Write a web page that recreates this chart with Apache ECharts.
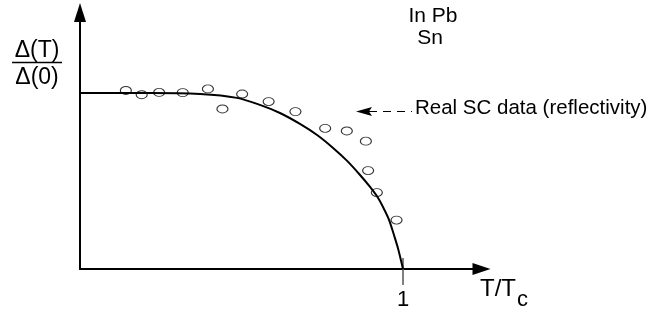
<!DOCTYPE html>
<html>
<head>
<meta charset="utf-8">
<script src="https://cdn.jsdelivr.net/npm/echarts@6/dist/echarts.min.js"></script>
<style>html,body{margin:0;padding:0;background:#fff}#c{width:651px;height:321px}</style>
</head>
<body>
<div id="c"></div>
<script>
// theoretical curve Δ(T)/Δ(0) vs T/Tc
var curveT = [0, 0.217, 0.372, 0.486, 0.557, 0.619, 0.681, 0.734, 0.780, 0.827, 0.867, 0.898, 0.923, 0.941, 0.957, 0.972, 0.985, 1.0];
var curveD = [1.0, 1.0, 0.994, 0.972, 0.932, 0.886, 0.824, 0.761, 0.693, 0.614, 0.534, 0.466, 0.403, 0.341, 0.278, 0.193, 0.114, 0];
// measured points (circles)
var dataT = [0.142, 0.191, 0.245, 0.318, 0.396, 0.441, 0.502, 0.584, 0.667, 0.759, 0.826, 0.885, 0.892, 0.919, 0.980];
var dataD = [1.014, 0.990, 1.003, 1.002, 1.023, 0.909, 0.994, 0.951, 0.894, 0.799, 0.784, 0.726, 0.559, 0.434, 0.278];
var xTickValues = [1];
var xTickLabels = ['1'];

var font = '"Liberation Sans", Arial, Helvetica, sans-serif';
var chart = echarts.init(document.getElementById('c'));
chart.setOption({
  animation: false,
  backgroundColor: '#fff',
  grid: { left: 80, right: 169.5, top: 12.5, bottom: 52, containLabel: false },
  xAxis: [{
    type: 'value', min: 0, max: 1.243,
    axisLine: { show: true, lineStyle: { color: '#000', width: 2 }, symbol: ['none', 'triangle'], symbolSize: [12, 18] },
    axisTick: { show: true, customValues: xTickValues, length: 16, lineStyle: { color: '#555', width: 1.5 } },
    axisLabel: { show: true, customValues: xTickValues, formatter: function (v) { var i = xTickValues.indexOf(v); return i >= 0 ? xTickLabels[i] : ''; },
      color: '#000', fontFamily: font, fontSize: 22, margin: 20 },
    splitLine: { show: false }
  }, {
    type: 'value', min: 0, max: 1.243, position: 'bottom',
    axisLine: { show: false },
    axisTick: { show: true, inside: true, customValues: xTickValues, length: 11, lineStyle: { color: '#555', width: 1.5 } },
    axisLabel: { show: false },
    splitLine: { show: false }
  }],
  yAxis: {
    type: 'value', min: 0, max: 1.457,
    axisLine: { show: true, lineStyle: { color: '#000', width: 2 }, symbol: ['none', 'triangle'], symbolSize: [12, 19] },
    axisTick: { show: false }, axisLabel: { show: false }, splitLine: { show: false }
  },
  series: [{
    type: 'line',
    data: curveT.map(function (t, i) { return [t, curveD[i]]; }),
    smooth: 0.3,
    showSymbol: false, symbol: 'none',
    lineStyle: { color: '#000', width: 2 },
    z: 2
  }, {
    type: 'scatter',
    data: dataT.map(function (t, i) { return [t, dataD[i]]; }),
    symbol: 'circle', symbolSize: [11, 8],
    itemStyle: { color: 'rgba(255,255,255,0)', borderColor: '#000', borderWidth: 1 },
    z: 3
  }],
  graphic: [
    { type: 'text', x: 37, y: 51, style: { text: 'Δ(T)', font: '23px ' + font, fill: '#000', align: 'center', verticalAlign: 'middle' } },
    { type: 'line', shape: { x1: 12, y1: 62.5, x2: 62, y2: 62.5 }, style: { stroke: '#000', lineWidth: 1.5 } },
    { type: 'text', x: 37, y: 78, style: { text: 'Δ(0)', font: '23px ' + font, fill: '#000', align: 'center', verticalAlign: 'middle' } },
    { type: 'text', x: 433, y: 16, style: { text: 'In Pb', font: '21px ' + font, fill: '#000', align: 'center', verticalAlign: 'middle' } },
    { type: 'text', x: 430, y: 38, style: { text: 'Sn', font: '21px ' + font, fill: '#000', align: 'center', verticalAlign: 'middle' } },
    { type: 'text', x: 415, y: 108, style: { text: 'Real SC data (reflectivity)', font: '20.5px ' + font, fill: '#000', align: 'left', verticalAlign: 'middle' } },
    { type: 'line', shape: { x1: 369, y1: 111.5, x2: 412, y2: 111.5 }, style: { stroke: '#000', lineWidth: 1.2, lineDash: [8, 6] } },
    { type: 'polygon', shape: { points: [[356, 111.5], [372, 107], [369, 111.5], [372, 116]] }, style: { fill: '#000' } },
    { type: 'text', x: 480, y: 289, style: { text: 'T/T', font: '24px ' + font, fill: '#000', align: 'left', verticalAlign: 'middle' } },
    { type: 'text', x: 517, y: 300, style: { text: 'c', font: '22px ' + font, fill: '#000', align: 'left', verticalAlign: 'middle' } }
  ]
});
</script>
</body>
</html>
